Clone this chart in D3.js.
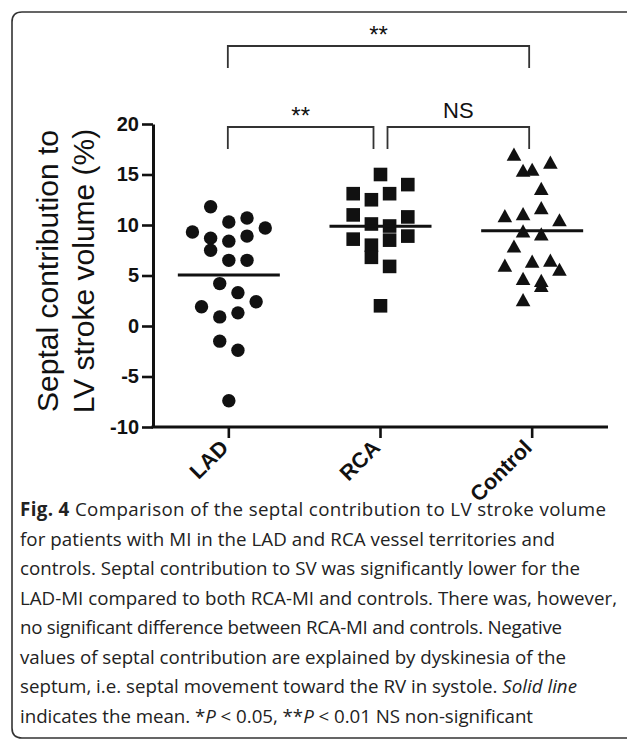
<!DOCTYPE html>
<html>
<head>
<meta charset="utf-8">
<script src="https://cdn.jsdelivr.net/npm/d3@7"></script>
<style>
body{margin:0;background:#fff;}
svg{display:block;}
</style>
</head>
<body>
<div id="fig"></div>
<script>
/* groups on the x axis */
const categories = ["LAD","RCA","Control"];
const yTicks = [-10,-5,0,5,10,15,20];

/* septal contribution (%) per patient, lane = column slot of the dot */
const ladValues = [11.8,9.3,10.3,10.7,9.7,8.7,8.4,8.9,7.5,6.5,6.5,4.2,3.3,1.9,2.4,0.9,1.3,-1.5,-2.4,-7.4];
const ladLanes  = [-1,-2,0,1,2,-1,0,1,-1,0,1,-0.5,0.5,-1.5,1.5,-0.5,0.5,-0.5,0.5,0];
const rcaValues = [15.0,14.0,13.1,13.1,12.5,11.0,10.8,10.1,9.9,8.6,8.5,8.9,8.0,6.8,5.9,2.0];
const rcaLanes  = [0,1.5,-1.5,0.5,-0.5,-1.5,1.5,-0.5,0.5,-1.5,0.5,1.5,-0.5,-0.5,0.5,0];
const ctrlValues = [17.0,16.2,15.4,15.5,13.6,11.7,10.9,11.1,10.5,9.4,9.1,7.9,6.0,6.4,6.5,5.6,4.7,4.5,4.0,2.6];
const ctrlLanes  = [-1,1,-0.5,0,0.5,0.5,-1.5,-0.5,1.5,-0.5,0.5,-1,-1.5,0,1,1.5,-0.5,0.5,0.5,-0.5];

/* significance brackets */
const sigFrom  = ["LAD","LAD","RCA"];
const sigTo    = ["Control","RCA","Control"];
const sigLabel = ["**","**","NS"];
const sigLevel = [1,0,0];

const captionLines = [
  [["Fig. 4","b"],[" Comparison of the septal contribution to LV stroke volume",""]],
  [["for patients with MI in the LAD and RCA vessel territories and",""]],
  [["controls. Septal contribution to SV was significantly lower for the",""]],
  [["LAD-MI compared to both RCA-MI and controls. There was, however,",""]],
  [["no significant difference between RCA-MI and controls. Negative",""]],
  [["values of septal contribution are explained by dyskinesia of the",""]],
  [["septum, i.e. septal movement toward the RV in systole. ",""],["Solid line","i"]],
  [["indicates the mean. *",""],["P","i"],[" < 0.05, **",""],["P","i"],[" < 0.01 NS non-significant",""]]
];
// how far each caption line runs in the original layout (px)
const captionWidths = [586,535,560,597,542,546,557,513];

const W = 627, H = 741;
const ink = "#111";
const svg = d3.select("#fig").append("svg").attr("width",W).attr("height",H);

// frame, open on the right side
svg.append("path")
  .attr("d","M640,12 L22,12 Q12,12 12,22 L12,728 Q12,738 22,738 L640,738")
  .attr("fill","none").attr("stroke","#333").attr("stroke-width",1.6);

const x = d3.scaleBand().domain(categories).range([153,608]);
const y = d3.scaleLinear().domain([-10,20]).range([427,124]);
const lane = d3.scaleLinear().domain([-1,1]).range([-18.2,18.2]);
const cx = c => x(c) + x.bandwidth()/2;

const font = "'Liberation Sans', Arial, sans-serif";

// y axis
const gy = svg.append("g").attr("transform","translate(153,0)")
  .call(d3.axisLeft(y).tickValues(yTicks).tickSize(11).tickSizeOuter(0).tickPadding(3)
    .tickFormat(d=>String(d)));
gy.select(".domain").attr("stroke",ink).attr("stroke-width",3);
gy.selectAll(".tick line").attr("stroke",ink).attr("stroke-width",2.6);
gy.selectAll(".tick text").attr("font-family",font).attr("font-weight","bold")
  .attr("font-size",20).attr("fill",ink);

// x axis
const gx = svg.append("g").attr("transform","translate(0,427)")
  .call(d3.axisBottom(x).tickSize(11).tickSizeOuter(0));
gx.select(".domain").attr("stroke",ink).attr("stroke-width",3).attr("d","M151.5,0H608");
gx.selectAll(".tick line").attr("stroke",ink).attr("stroke-width",2.6);
gx.selectAll(".tick text").attr("font-family",font).attr("font-weight","bold")
  .attr("font-size",21.5).attr("fill",ink)
  .attr("text-anchor","end").attr("dy",null).attr("y",0)
  .attr("transform","translate(1,22) rotate(-45)");

// y label
const yl = svg.append("text").attr("transform","translate(0,271) rotate(-90)")
  .attr("font-family",font).attr("font-size",30).attr("fill",ink).attr("text-anchor","middle");
yl.append("tspan").attr("x",0).attr("y",58).text("Septal contribution to");
yl.append("tspan").attr("x",0).attr("y",94).text("LV stroke volume (%)");

// points
const groups = [
  {cat:"LAD", vals:ladValues, lanes:ladLanes, shape:"circle"},
  {cat:"RCA", vals:rcaValues, lanes:rcaLanes, shape:"square"},
  {cat:"Control", vals:ctrlValues, lanes:ctrlLanes, shape:"triangle"}
];
const triPath = "M0,-6.8L7.3,6.4L-7.3,6.4Z";
groups.forEach(g=>{
  const pts = g.vals.map((v,i)=>({v:v, l:g.lanes[i]}));
  const sel = svg.append("g").selectAll("path").data(pts).enter();
  if(g.shape=="circle"){
    sel.append("circle").attr("cx",d=>cx(g.cat)+lane(d.l)).attr("cy",d=>y(d.v))
      .attr("r",6.7).attr("fill",ink);
  } else if(g.shape=="square"){
    sel.append("rect").attr("x",d=>cx(g.cat)+lane(d.l)-6.8).attr("y",d=>y(d.v)-6.8)
      .attr("width",13.6).attr("height",13.6).attr("fill",ink);
  } else {
    sel.append("path").attr("d",triPath)
      .attr("transform",d=>`translate(${cx(g.cat)+lane(d.l)},${y(d.v)})`).attr("fill",ink);
  }
  // mean line
  const m = d3.mean(g.vals);
  svg.append("line").attr("x1",cx(g.cat)-51).attr("x2",cx(g.cat)+51)
    .attr("y1",y(m)).attr("y2",y(m)).attr("stroke",ink).attr("stroke-width",3);
});

// brackets
const levelY = [127,46];
sigFrom.forEach((a,i)=>{
  const b = sigTo[i];
  const x1 = cx(a) + (a=="RCA" ? 7 : -1);
  const x2 = cx(b) + (b=="RCA" ? -7 : -3);
  const ty = levelY[sigLevel[i]];
  svg.append("path").attr("d",`M${x1},${ty+22}V${ty}H${x2}V${ty+22}`)
    .attr("fill","none").attr("stroke","#333").attr("stroke-width",1.8);
  const star = sigLabel[i]=="**";
  svg.append("text").attr("x",(x1+x2)/2).attr("y",star ? ty-3 : ty-9)
    .attr("text-anchor","middle").attr("font-family",font).attr("font-size",star ? 24 : 22)
    .attr("fill",ink).text(sigLabel[i]);
});

// caption
const capFont = "'Open Sans','Noto Sans',sans-serif";
const cap = svg.append("g");
captionLines.forEach((parts,i)=>{
  const t = cap.append("text").attr("x",20).attr("y",516+29.5*i)
    .attr("font-family",capFont).attr("font-size",18).attr("fill","#222");
  parts.forEach(p=>{
    const s = t.append("tspan").text(p[0]);
    if(p[1]=="b") s.attr("font-weight","bold");
    if(p[1]=="i") s.attr("font-style","italic");
  });
});
// fit caption size on the widest line, then spread each line to its width
const capNodes = cap.selectAll("text").nodes();
const fs = 18*597/capNodes[3].getComputedTextLength();
cap.selectAll("text").attr("font-size",fs);
capNodes.forEach((n,i)=>{
  const chars = n.textContent.length;
  const extra = (captionWidths[i] - n.getComputedTextLength())/(chars-1);
  d3.select(n).attr("letter-spacing",extra.toFixed(3));
});
</script>
</body>
</html>
